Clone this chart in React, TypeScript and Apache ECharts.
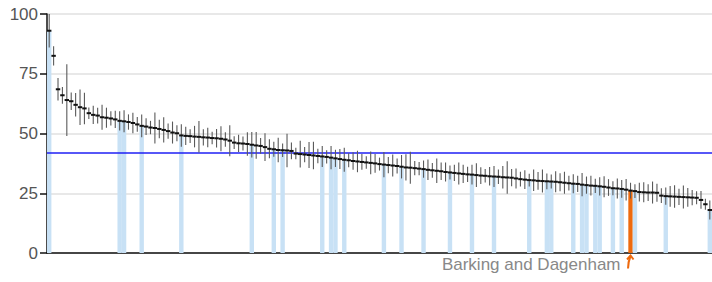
import React, { useEffect, useRef } from "react";
import * as echarts from "echarts";

// Central estimates (%), sorted descending, one per area
const values: number[] = [
  93, 82.5, 68.5, 66, 64, 63.5, 62, 61, 60.5, 58.5,
  57.8, 57.5, 56.8, 56.6, 56.3, 55.9, 55.3, 55.1, 54.8, 54.4,
  53.8, 53.2, 52.9, 52.5, 52.3, 51.9, 51.5, 51.0, 50.4, 50.1,
  49.2, 49.0, 48.9, 48.7, 48.6, 48.4, 48.3, 48.1, 48.0, 47.8,
  47.5, 47.0, 46.2, 45.9, 45.8, 45.6, 45.3, 45.0, 44.8, 44.3,
  43.6, 43.4, 43.1, 43.0, 42.9, 42.7, 41.6, 41.4, 41.2, 41.0,
  40.8, 40.6, 40.4, 40.2, 39.9, 39.6, 39.3, 39.0, 38.8, 38.5,
  38.3, 38.1, 37.9, 37.7, 37.5, 37.2, 37.0, 36.8, 36.6, 36.4,
  36.1, 35.8, 35.7, 35.5, 35.3, 35.1, 34.8, 34.6, 34.4, 34.2,
  33.9, 33.7, 33.5, 33.3, 33.1, 32.9, 32.8, 32.6, 32.4, 32.3,
  32.1, 32.0, 31.9, 31.7, 31.6, 31.5, 31.2, 30.9, 30.7, 30.5,
  30.4, 30.2, 30.1, 30.0, 29.9, 29.8, 29.6, 29.4, 29.2, 29.0,
  28.9, 28.6, 28.4, 28.2, 28.1, 27.9, 27.7, 27.4, 27.1, 27.0,
  26.8, 26.5, 26.1, 25.9, 25.5, 25.4, 25.3, 25.3, 25.2, 24.0,
  23.8, 23.7, 23.6, 23.5, 23.4, 23.3, 23.2, 23.1, 22.2, 20.4,
  18.0,
];

// Half-width of the confidence interval for each area
const halfCI: number[] = [
  7, 4, 4.7, 3.5, 15, 3.7, 4.9, 7.4, 6.6, 2.4,
  3.8, 3.3, 5.2, 4.2, 3.0, 3.6, 4.0, 4.6, 3.2, 4.3,
  3.1, 4.8, 3.5, 2.8, 6.5, 3.9, 5.3, 3.2, 4.6, 3.3,
  4.7, 3.8, 2.9, 4.5, 6.6, 3.4, 4.1, 2.6, 3.9, 5.2,
  3.0, 6.5, 2.7, 3.6, 2.9, 4.9, 5.3, 5.6, 3.3, 5.8,
  4.0, 3.1, 5.1, 2.8, 7.0, 3.5, 2.4, 5.6, 3.2, 5.4,
  5.8, 3.0, 4.4, 2.8, 4.9, 3.6, 4.2, 5.0, 2.9, 3.7,
  4.5, 3.3, 2.6, 4.8, 3.9, 2.7, 5.3, 3.4, 4.6, 3.1,
  4.9, 5.5, 6.7, 3.0, 2.8, 3.6, 4.3, 3.1, 5.1, 3.7,
  4.0, 2.9, 3.4, 4.6, 3.8, 3.2, 4.1, 5.0, 3.5, 2.8,
  3.9, 4.4, 3.0, 4.7, 6.8, 3.6, 4.2, 3.1, 3.9, 2.7,
  4.5, 3.7, 4.8, 3.3, 2.9, 4.4, 3.8, 4.6, 3.1, 4.0,
  3.4, 4.9, 3.6, 4.1, 3.0, 3.8, 4.4, 3.5, 2.9, 4.2,
  3.7, 4.5, 3.3, 2.9, 3.9, 4.2, 3.5, 4.6, 3.8, 3.1,
  3.6, 4.3, 4.7, 3.4, 4.8, 3.9, 3.2, 2.7, 3.7, 2.3,
  4.0,
];

// Areas drawn with a light blue bar (London boroughs)
const londonIdx: number[] = [
  0, 16, 17, 21, 30, 46, 51, 53, 62, 64, 65, 67, 76, 80, 85, 91, 96, 101,
  109, 113, 114, 119, 121, 122, 124, 125, 128, 130, 133, 140, 150,
];

const focusIdx = 132;
const focusName = "Barking and Dagenham";
const englandValue = 42;
const yMin = 0;
const yMax = 100;
const yInterval = 25;

const categories = values.map((_, i) => String(i));

const FONT = "'Liberation Sans', Arial, Helvetica, sans-serif";
const BLUE_BAR = "#c8e1f5";
const ORANGE = "#ee6a0e";

export default function App() {
  const ref = useRef<HTMLDivElement>(null);

  useEffect(() => {
    if (!ref.current) return;
    const chart = echarts.init(ref.current, undefined, { renderer: "svg" });

    const barData = values.map((v, i) => {
      if (i === focusIdx) return { value: v, itemStyle: { color: ORANGE } };
      if (londonIdx.includes(i)) return { value: v, itemStyle: { color: BLUE_BAR } };
      return { value: "-", itemStyle: { color: "transparent" } };
    });

    const errData = values.map((v, i) => [
      i,
      v,
      Math.max(0, v - halfCI[i]),
      Math.min(100, v + halfCI[i]),
    ]);

    const option: any = {
      animation: false,
      grid: { left: 47, right: -3, top: 14, bottom: 29, containLabel: false },
      xAxis: {
        type: "category",
        data: categories,
        boundaryGap: true,
        axisLine: { show: true, lineStyle: { color: "#111", width: 1.5 } },
        axisTick: { show: false },
        axisLabel: { show: false },
        splitLine: { show: false },
      },
      yAxis: {
        type: "value",
        min: yMin,
        max: yMax,
        interval: yInterval,
        axisLine: { show: true, lineStyle: { color: "#111", width: 1.5 } },
        axisTick: { show: true, length: 7, lineStyle: { color: "#111", width: 1.5 } },
        axisLabel: {
          fontSize: 17,
          color: "#555",
          fontFamily: FONT,
          margin: 9,
        },
        splitLine: { show: true, lineStyle: { color: "#e0e0e0", width: 1.5 } },
      },
      series: [
        {
          type: "bar",
          data: barData,
          barCategoryGap: "0%",
          barGap: "0%",
          z: 2,
          markLine: {
            silent: true,
            symbol: ["none", "none"],
            label: { show: false },
            lineStyle: { color: "#1f1ff5", width: 1.6, type: "solid" },
            data: [{ yAxis: englandValue }],
            z: 4,
          },
        },
        {
          type: "custom",
          z: 5,
          data: errData,
          encode: { x: 0, y: 1 },
          renderItem: (params: any, api: any) => {
            const idx = api.value(0);
            const mid = api.coord([idx, api.value(1)]);
            const lo = api.coord([idx, api.value(2)]);
            const hi = api.coord([idx, api.value(3)]);
            const w = api.size([1, 0])[0];
            return {
              type: "group",
              children: [
                {
                  type: "line",
                  shape: { x1: mid[0], y1: hi[1], x2: mid[0], y2: lo[1] },
                  style: { stroke: "#5a5a5a", lineWidth: 1.1 },
                },
                {
                  type: "line",
                  shape: { x1: mid[0] - w / 2, y1: mid[1], x2: mid[0] + w / 2, y2: mid[1] },
                  style: { stroke: "#111", lineWidth: 2 },
                },
              ],
            };
          },
        },
      ],
    };

    chart.setOption(option);

    const cx = chart.convertToPixel({ xAxisIndex: 0 }, focusIdx) as number;
    chart.setOption({
      graphic: [
        {
          type: "text",
          x: cx - 10,
          y: 256,
          style: {
            text: focusName,
            fontSize: 17,
            fontFamily: FONT,
            fill: "#888",
            align: "right",
            verticalAlign: "top",
          },
        },
        {
          type: "bezierCurve",
          shape: {
            x1: cx - 2.5,
            y1: 268.5,
            x2: cx,
            y2: 256,
            cpx1: cx - 2.5,
            cpy1: 262,
          },
          style: { stroke: ORANGE, lineWidth: 2, fill: "none" },
        },
        {
          type: "polyline",
          shape: {
            points: [
              [cx - 3.5, 259.5],
              [cx, 255.5],
              [cx + 3, 259.5],
            ],
          },
          style: { stroke: ORANGE, lineWidth: 2, fill: "none" },
        },
      ],
    });

    return () => chart.dispose();
  }, []);

  return (
    <div
      ref={ref}
      style={{ position: "absolute", left: 0, top: 0, width: 712, height: 282 }}
    />
  );
}
